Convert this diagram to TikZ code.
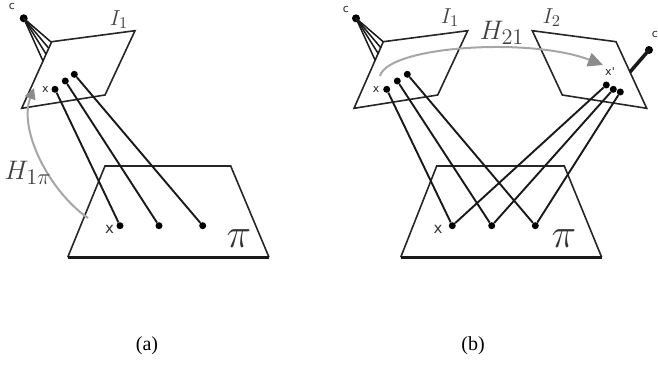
\documentclass[tikz,border=0pt]{standalone}
\usepackage{fontspec}
\setmainfont{Liberation Serif}
\newfontfamily\lblfont{DejaVu Sans}
\usetikzlibrary{arrows.meta}
\tikzset{
  pdot/.style={circle,fill=black,inner sep=0pt,minimum size=7pt},
  plane/.style={draw=black!85,line width=1.6pt,line join=miter},
  base/.style={line width=3pt,draw=black!90},
  ray/.style={line width=1.9pt,draw=black!90},
  homogL/.style={draw=black!35,line width=2pt,-{Triangle[length=11pt,width=11pt,color=black!45]}},
  homogR/.style={draw=black!35,line width=2pt,-{Triangle[length=15pt,width=14pt,color=black!45]}},
  small/.style={font=\lblfont\fontsize{11}{11}\selectfont,text=black!85,inner sep=0pt},
  large/.style={font=\lblfont\fontsize{15}{15}\selectfont,text=black!80,inner sep=0pt},
  mathI/.style={text=black!75,inner sep=0pt,scale=1.5,font=\fontsize{15}{15}\selectfont},
  mathH/.style={text=black!75,inner sep=0pt,scale=1.55,font=\fontsize{19}{19}\selectfont},
  mathP/.style={text=black!80,inner sep=0pt,scale=2,font=\fontsize{21}{21}\selectfont},
  captext/.style={font=\fontsize{20}{20}\selectfont,inner sep=0pt},
  sight/.style={line width=1.5pt,black!90}
}
\begin{document}
\begin{tikzpicture}[x=1pt,y=-1pt]
\useasboundingbox (0,0) rectangle (658,371);
% --- panel (a)
\coordinate (aA) at (51.7,41.7); \coordinate (aB) at (135,30.7);
\coordinate (aC) at (105,95); \coordinate (aD) at (21.7,108.3);
\draw[plane] (aA)--(aB)--(aC)--(aD)--cycle;
\coordinate (aG1) at (105,166); \coordinate (aG2) at (230.7,166);
\coordinate (aG3) at (269,257.3); \coordinate (aG4) at (67.7,257.3);
\draw[plane] (aG4)--(aG1)--(aG2)--(aG3);
\draw[base] (aG4)--(aG3);
\node[pdot,minimum size=8pt] (ac) at (23.7,18.3) {};
\coordinate (aci1) at (43,61); \coordinate (aci2) at (46,54);
\coordinate (aci3) at (48.5,48); \coordinate (aci4) at (51,42);
\foreach \t in {aci1,aci2,aci3,aci4} \draw[sight] (ac.center)--(\t);
\node[pdot] (ax1) at (55,89.3) {};
\node[pdot] (ax2) at (65.3,81) {};
\node[pdot] (ax3) at (74.3,74.3) {};
\node[pdot] (aX1) at (120,225.7) {};
\node[pdot] (aX2) at (159,225.7) {};
\node[pdot] (aX3) at (202.7,225.7) {};
\draw[ray] (ax1)--(aX1); \draw[ray] (ax2)--(aX2); \draw[ray] (ax3)--(aX3);
\coordinate (ah0) at (88,218); \coordinate (ah1) at (34,88);
\draw[homogL] (ah0) .. controls (50,192) and (18,130) .. (ah1);
\node[small] (alc) at (12,7) {c};
\node[small] (alx) at (45.5,89.5) {x};
\node[large] (alX) at (109.5,229) {x};
\node[mathI] (aI) at (119,20) {$I_1$};
\node[mathH] (aH) at (28,173) {$H_{1\pi}$};
\node[mathP] (api) at (239,239) {$\pi$};
\node[captext] (capa) at (147,346) {(a)};
% --- panel (b)
\coordinate (bA) at (383.3,41.7); \coordinate (bB) at (467.7,30.7);
\coordinate (bC) at (437.7,95); \coordinate (bD) at (354,108.3);
\draw[plane] (bA)--(bB)--(bC)--(bD)--cycle;
\coordinate (cA) at (532.3,30.7); \coordinate (cB) at (616,41.7);
\coordinate (cC) at (646.7,108.3); \coordinate (cD) at (562.3,95);
\draw[plane] (cA)--(cB)--(cC)--(cD)--cycle;
\coordinate (bG1) at (436.7,166); \coordinate (bG2) at (564.3,166);
\coordinate (bG3) at (601.7,257.3); \coordinate (bG4) at (400.7,257.3);
\draw[plane] (bG4)--(bG1)--(bG2)--(bG3);
\draw[base] (bG4)--(bG3);
\node[pdot,minimum size=8pt] (bc) at (356,18.3) {};
\coordinate (bci1) at (375.5,61); \coordinate (bci2) at (378.5,54);
\coordinate (bci3) at (381,48); \coordinate (bci4) at (383.5,42);
\foreach \t in {bci1,bci2,bci3,bci4} \draw[sight] (bc.center)--(\t);
\node[pdot,minimum size=8pt] (cc) at (649,50) {};
\coordinate (cci) at (630,72);
\draw[line width=3.5pt,black!90] (cc.center)--(cci);
\node[pdot] (bx1) at (386.7,89.3) {};
\node[pdot] (bx2) at (397.3,81) {};
\node[pdot] (bx3) at (407.3,74.3) {};
\node[pdot] (cx1) at (606.3,85) {};
\node[pdot] (cx2) at (613.3,89.3) {};
\node[pdot] (cx3) at (620.3,92) {};
\node[pdot] (bX1) at (452.3,225.7) {};
\node[pdot] (bX2) at (491.7,225.7) {};
\node[pdot] (bX3) at (535.3,225.7) {};
\draw[ray] (bx1)--(bX1); \draw[ray] (bx2)--(bX2); \draw[ray] (bx3)--(bX3);
\draw[ray] (cx1)--(bX1); \draw[ray] (cx2)--(bX2); \draw[ray] (cx3)--(bX3);
\coordinate (bh0) at (380,76); \coordinate (bh1) at (603,65);
\draw[homogR] (bh0) .. controls (388,46) and (530,37) .. (bh1);
\node[small] (blc) at (346,10) {c};
\node[small] (blx) at (376,89.5) {x};
\node[small] (clc) at (655,35) {c};
\node[small] (clx) at (610,71.5) {x'};
\node[large] (blX) at (438,229) {x};
\node[mathI] (bI) at (450,17.5) {$I_1$};
\node[mathI] (cI) at (551.7,17.5) {$I_2$};
\node[mathH] (bH) at (502,33) {$H_{21}$};
\node[mathP] (bpi) at (564,239) {$\pi$};
\node[captext] (capb) at (473,346) {(b)};
\end{tikzpicture}
\end{document}
